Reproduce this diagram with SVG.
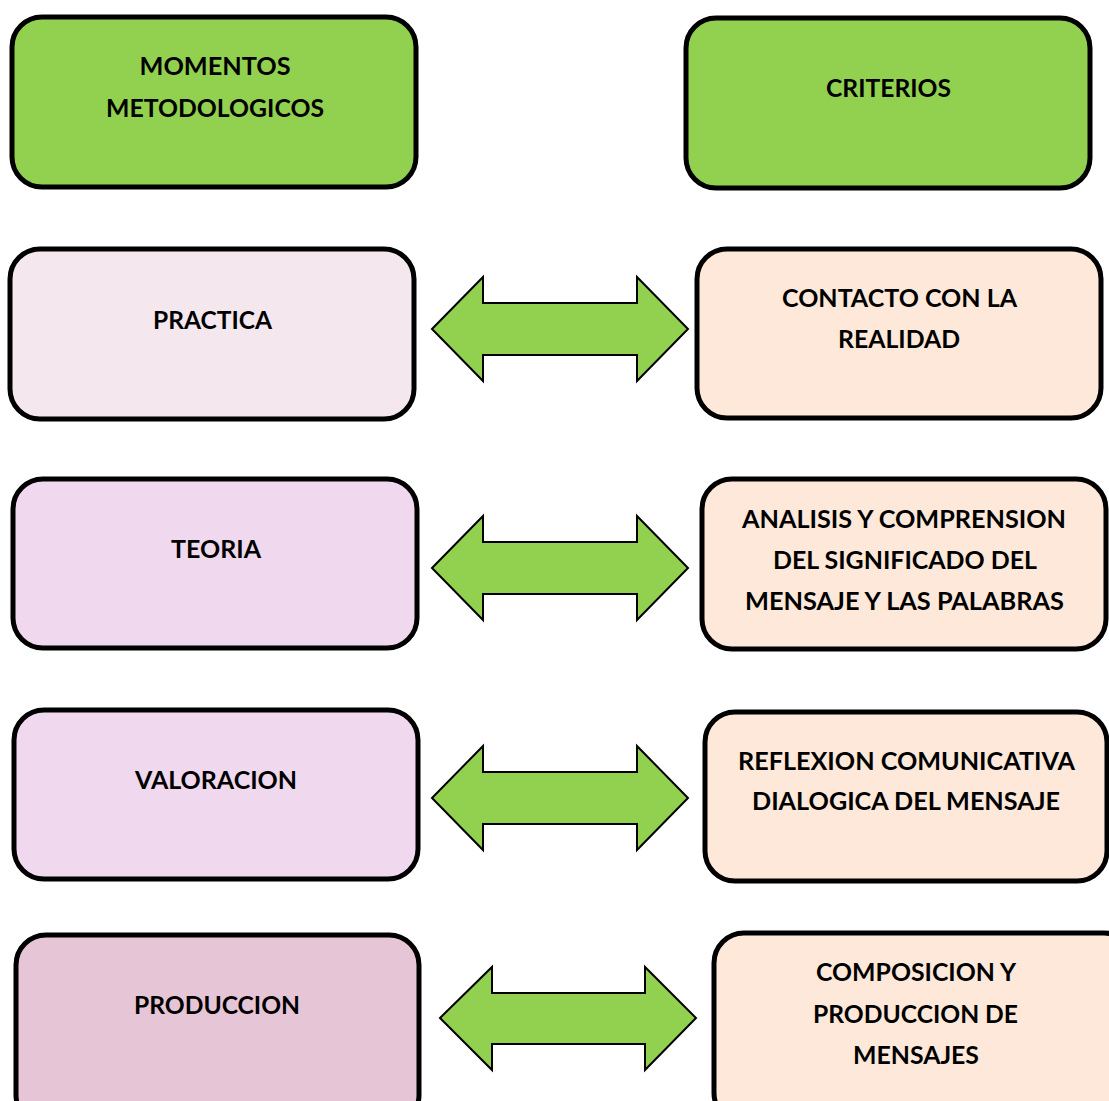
<svg xmlns="http://www.w3.org/2000/svg" width="1109" height="1101" viewBox="0 0 1109 1101">
<style>
.box{stroke:#000;stroke-width:5}
.g{fill:#92D050}
.p1{fill:#F4E7EE}
.p2{fill:#F0D8EE}
.p3{fill:#E6C5D6}
.pe{fill:#FDE8D9}
.arr{fill:#92D050;stroke:#000;stroke-width:2;stroke-linejoin:miter}
text{font-family:Lato,"Open Sans",sans-serif;font-weight:bold;font-size:24px;fill:#000;text-anchor:middle}
</style>
<rect width="1109" height="1101" fill="#fff"/>
<g id="connectors">
<polygon class="arr" points="432,329 483,277 483,303 637,303 637,277 688,329 637,381 637,355 483,355 483,381"/>
<polygon class="arr" points="432,568 483,516 483,542 637,542 637,516 688,568 637,620 637,594 483,594 483,620"/>
<polygon class="arr" points="432,798 483,746 483,772 637,772 637,746 688,798 637,850 637,824 483,824 483,850"/>
<polygon class="arr" points="440,1018 492,967 492,993 645,993 645,967 696,1018 645,1070 645,1044 492,1044 492,1070"/>
</g>
<g id="n-momentos"><rect class="box g" x="12" y="17" width="404" height="170" rx="30"/>
<text x="215" y="74.5" textLength="151" lengthAdjust="spacingAndGlyphs">MOMENTOS</text>
<text x="215" y="116.5" textLength="218" lengthAdjust="spacingAndGlyphs">METODOLOGICOS</text></g>
<g id="n-criterios"><rect class="box g" x="686" y="18" width="404" height="170" rx="30"/>
<text x="888.5" y="96.5" textLength="125" lengthAdjust="spacingAndGlyphs">CRITERIOS</text></g>
<g id="n-practica"><rect class="box p1" x="10" y="249" width="404" height="170" rx="30"/>
<text x="212.5" y="328.5" textLength="119" lengthAdjust="spacingAndGlyphs">PRACTICA</text></g>
<g id="n-contacto"><rect class="box pe" x="697" y="249" width="404" height="169" rx="30"/>
<text x="899.5" y="306.5" textLength="235" lengthAdjust="spacingAndGlyphs">CONTACTO CON LA</text>
<text x="899" y="347.5" textLength="122" lengthAdjust="spacingAndGlyphs">REALIDAD</text></g>
<g id="n-teoria"><rect class="box p2" x="13" y="479" width="404" height="169" rx="30"/>
<text x="216" y="557.5" textLength="90" lengthAdjust="spacingAndGlyphs">TEORIA</text></g>
<g id="n-analisis"><rect class="box pe" x="702" y="479" width="404" height="170" rx="30"/>
<text x="904" y="527.5" textLength="324" lengthAdjust="spacingAndGlyphs">ANALISIS Y COMPRENSION</text>
<text x="905" y="568.5" textLength="264" lengthAdjust="spacingAndGlyphs">DEL SIGNIFICADO DEL</text>
<text x="904.5" y="609.5" textLength="319" lengthAdjust="spacingAndGlyphs">MENSAJE Y LAS PALABRAS</text></g>
<g id="n-valoracion"><rect class="box p2" x="14" y="710" width="404" height="169" rx="30"/>
<text x="216" y="788.5" textLength="162" lengthAdjust="spacingAndGlyphs">VALORACION</text></g>
<g id="n-reflexion"><rect class="box pe" x="705" y="712" width="402" height="169" rx="30"/>
<text x="906.5" y="769.5" textLength="337" lengthAdjust="spacingAndGlyphs">REFLEXION COMUNICATIVA</text>
<text x="906" y="809.5" textLength="308" lengthAdjust="spacingAndGlyphs">DIALOGICA DEL MENSAJE</text></g>
<g id="n-produccion"><rect class="box p3" x="16" y="935" width="403" height="190" rx="30"/>
<text x="217" y="1013.5" textLength="166" lengthAdjust="spacingAndGlyphs">PRODUCCION</text></g>
<g id="n-composicion"><rect class="box pe" x="714" y="933" width="420" height="190" rx="30"/>
<text x="916" y="980.5" textLength="200" lengthAdjust="spacingAndGlyphs">COMPOSICION Y</text>
<text x="915.5" y="1022.5" textLength="205" lengthAdjust="spacingAndGlyphs">PRODUCCION DE</text>
<text x="916" y="1063.5" textLength="126" lengthAdjust="spacingAndGlyphs">MENSAJES</text></g>
</svg>
